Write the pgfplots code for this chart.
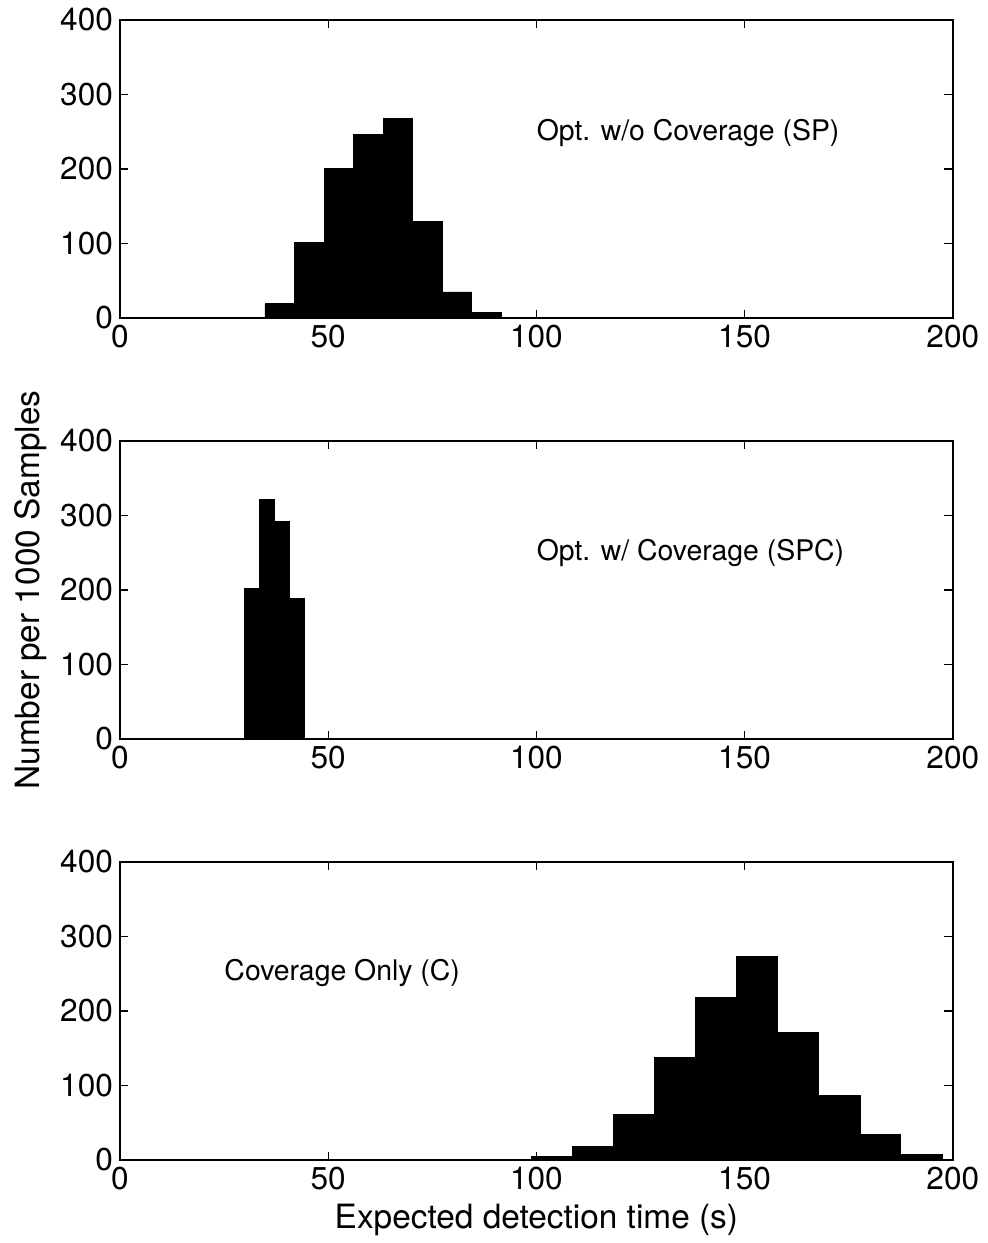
\documentclass[border=0pt]{standalone}
\usepackage{fontspec}
\setmainfont{TeX Gyre Heros}
\usepackage{pgfplots}
\pgfplotsset{compat=1.18}

\pgfplotsset{
  histpanel/.style={
    scale only axis,
    width=416.4pt, height=149pt,
    xmin=0, xmax=200, ymin=0, ymax=400,
    xtick={0,50,...,200}, ytick={0,100,...,400},
    tick align=inside,
    major tick length=4.2pt,
    axis line style={line width=0.8pt},
    every tick/.style={black, line width=0.6pt},
    tick label style={font=\fontsize{15.8}{18}\selectfont},
    /pgf/number format/assume math mode=true,
    label style={font=\fontsize{16.7}{19}\selectfont},
    clip=false,
  },
  bars/.style={ybar interval, fill=black, draw=black, line width=0.4pt},
}
\tikzset{note/.style={anchor=west, inner sep=0pt, font=\fontsize{14.2}{17}\selectfont}}

\begin{document}
\begin{tikzpicture}
\path[use as bounding box] (-60pt,159pt) rectangle (433.5pt,-462.5pt);

% Opt. w/o Coverage (SP)
\begin{axis}[histpanel, at={(0pt,0pt)}, anchor=south west]
  \addplot[bars] coordinates {
    (34.8,19) (41.9,101) (49.0,201) (56.1,246) (63.2,268)
    (70.3,129) (77.4,35) (84.5,7) (91.6,7)
  };
  \node[note] at (axis cs:100,248) {Opt. w/o Coverage (SP)};
\end{axis}

% Opt. w/ Coverage (SPC)
\begin{axis}[histpanel, at={(0pt,-210.5pt)}, anchor=south west,
    ylabel={Number per 1000 Samples}]
  \addplot[bars] coordinates {
    (29.9,202) (33.5,321) (37.2,292) (40.8,189) (44.4,189)
  };
  \node[note] at (axis cs:100,250) {Opt. w/ Coverage (SPC)};
\end{axis}

% Coverage Only (C)
\begin{axis}[histpanel, at={(0pt,-421pt)}, anchor=south west,
    xlabel={Expected detection time (s)}]
  \addplot[bars] coordinates {
    (98.9,5) (108.7,18) (118.5,61) (128.3,138) (138.2,218)
    (148.0,273) (157.9,171) (167.8,87) (177.7,34) (187.5,8) (197.4,8)
  };
  \node[note] at (axis cs:25,251) {Coverage Only (C)};
\end{axis}
\end{tikzpicture}
\end{document}
